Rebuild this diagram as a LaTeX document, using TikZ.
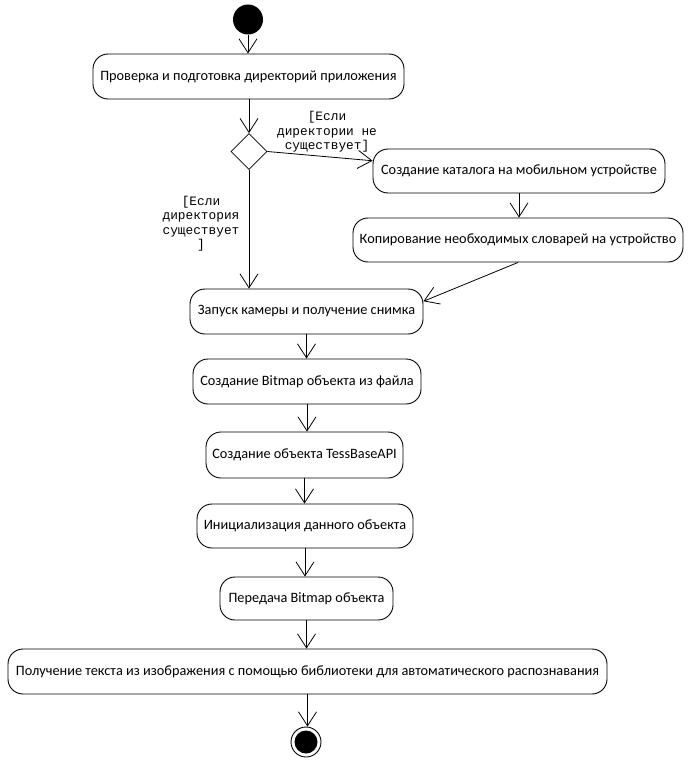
\documentclass[tikz,border=0pt]{standalone}
\usepackage{fontspec}
\setmainfont{Carlito}
\newfontfamily\guardfont{Liberation Mono}
\usetikzlibrary{arrows.meta,shapes.geometric}

\begin{document}
\begin{tikzpicture}[x=1pt,y=-1pt,>={Straight Barb[length=14pt,width=18pt]},
    act/.style={draw,line width=0.9pt,rounded corners=15pt,inner sep=0pt,
      font=\fontsize{14.3}{16}\selectfont},
    guard/.style={align=center,font=\guardfont\fontsize{12.8}{14.5}\selectfont},
    flow/.style={->,line width=0.8pt}]
    \useasboundingbox (0,0) rectangle (691,760);

    % start and decision
    \node[circle,fill=black,minimum size=30pt,inner sep=0pt] (start) at (248,19.5) {};
    \node[act,minimum width=311pt,minimum height=45pt] (check) at (248.5,76.5)
      {Проверка и подготовка директорий приложения};
    \node[diamond,draw,line width=0.8pt,aspect=1,minimum width=36pt,minimum height=36pt,inner sep=0pt]
      (dec) at (249,151.5) {};

    % branch without directories
    \node[act,minimum width=292pt,minimum height=44pt] (mkdir) at (519,171)
      {Создание каталога на мобильном устройстве};
    \node[act,minimum width=330pt,minimum height=44pt] (copy) at (518,240)
      {Копирование необходимых словарей на устройство};

    % main flow
    \node[act,minimum width=233pt,minimum height=45pt] (camera) at (306.5,311.5)
      {Запуск камеры и получение снимка};
    \node[act,minimum width=228pt,minimum height=45pt] (bitmap) at (307,381.5)
      {Создание Bitmap объекта из файла};
    \node[act,minimum width=197pt,minimum height=46pt] (tess) at (304.5,455)
      {Создание объекта TessBaseAPI};
    \node[act,minimum width=216pt,minimum height=44pt] (init) at (305,526)
      {Инициализация данного объекта};
    \node[act,minimum width=173pt,minimum height=43pt] (pass) at (306.5,598.5)
      {Передача Bitmap объекта};
    \node[act,minimum width=599pt,minimum height=45pt] (ocr) at (307.5,671.5)
      {Получение текста из изображения с помощью библиотеки для автоматического распознавания};

    \node[circle,draw,line width=0.9pt,minimum size=30pt,inner sep=0pt] (stop) at (306,742) {};
    \node[circle,fill=black,minimum size=23pt,inner sep=0pt] (stopdot) at (stop) {};

    % guards
    \node[guard] (noguard) at (327,132) {[Если\\директории не\\существует]};
    \node[guard] (yesguard) at (201,223.5) {[Если\\директория\\существует\\]};

    % connectors
    \draw[flow] (start) -- (start |- check.north);
    \draw[flow] (check.south) -- (check.south -| dec.north) -- (dec.north);
    \draw[flow] (dec.east) -- (mkdir.176);
    \draw[flow] (dec.south) -- (dec.south |- camera.north);
    \draw[flow] (mkdir.south) -- (mkdir.south |- copy.north);
    \draw[flow] (copy.south) -- (camera.5);
    \draw[flow] (camera.south) -- (camera.south |- bitmap.north);
    \draw[flow] (bitmap.south) -- (bitmap.south |- tess.north);
    \draw[flow] (tess.south) -- (tess.south |- init.north);
    \draw[flow] (init.south) -- (init.south |- pass.north);
    \draw[flow] (pass.south) -- (pass.south |- ocr.north);
    \draw[flow] (ocr.south) -- (ocr.south |- stop.north);
\end{tikzpicture}
\end{document}
